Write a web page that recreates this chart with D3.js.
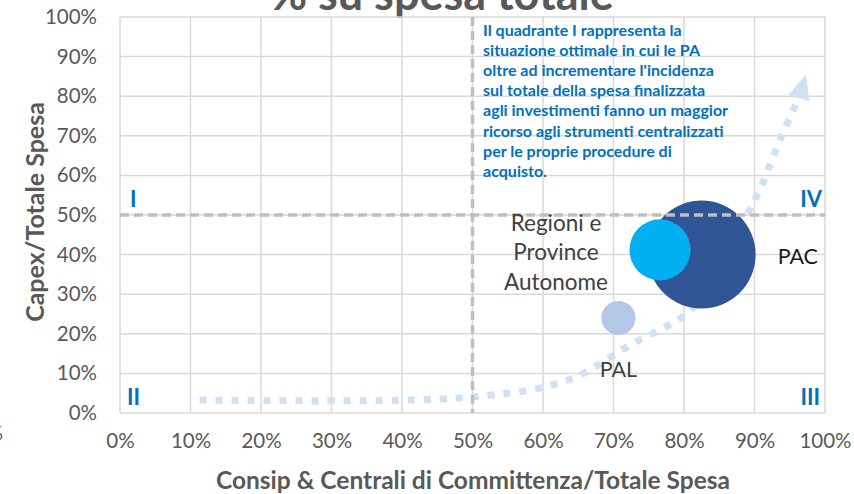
<!DOCTYPE html>
<html>
<head>
<meta charset="utf-8">
<script src="https://cdn.jsdelivr.net/npm/d3@7"></script>
<style>
  body { margin: 0; background: #fff; }
  svg { display: block; font-family: Lato, "Open Sans", sans-serif; }
</style>
</head>
<body>
<div id="chart"></div>
<script>
// tick values (shares 0..1)
const tickValues = [0, 0.1, 0.2, 0.3, 0.4, 0.5, 0.6, 0.7, 0.8, 0.9, 1];

// bubbles
const entities = ["PAC", "Regioni e Province Autonome", "PAL"];
const consipShare = [0.825, 0.766, 0.707];
const capexShare = [0.40, 0.412, 0.24];
const bubbleSize = [100, 32, 10];
const bubbleColors = ["#2F5597", "#00B0F0", "#B4C7E7"];

// dotted trend arrow (chart units)
const trendX = [0.113, 0.497, 0.635, 0.724, 0.813, 0.858, 0.904, 0.936, 0.963];
const trendY = [0.033, 0.040, 0.083, 0.172, 0.265, 0.399, 0.551, 0.689, 0.795];
const arrowTip = [0.973, 0.855];

const quadrantLabels = ["I", "II", "III", "IV"];
const noteLines = [
  "Il quadrante I rappresenta la",
  "situazione ottimale in cui le PA",
  "oltre ad incrementare l'incidenza",
  "sul totale della spesa finalizzata",
  "agli investimenti fanno un maggior",
  "ricorso agli strumenti centralizzati",
  "per le proprie procedure di",
  "acquisto."
];

const W = 854, H = 494;
const svg = d3.select("#chart").append("svg").attr("width", W).attr("height", H);

var x = d3.scaleLinear().domain([0, 1]).range([120, 825]);
var y = d3.scaleLinear().domain([0, 1]).range([413, 17]);
var r = d3.scaleSqrt().domain([0, 100]).range([0, 54]);
var pct = d3.format(".0%");

// title (cut off at the top)
svg.append("text")
  .attr("x", 442).attr("y", 10)
  .attr("text-anchor", "middle")
  .style("font-size", "45px").style("font-weight", "bold")
  .style("fill", "#595959")
  .text("% su spesa totale");

// stray fragment at the left edge
svg.append("text")
  .attr("x", -13).attr("y", 440)
  .style("font-size", "20px").style("fill", "#595959")
  .text("%");

// gridlines
var grid = svg.append("g");
grid.selectAll(".vg").data(tickValues).enter().append("line")
  .attr("x1", d => x(d)).attr("x2", d => x(d))
  .attr("y1", y(0)).attr("y2", y(1))
  .style("stroke", "#d9d9d9").style("stroke-width", 1.5);
grid.selectAll(".hg").data(tickValues).enter().append("line")
  .attr("x1", x(0)).attr("x2", x(1))
  .attr("y1", d => y(d)).attr("y2", d => y(d))
  .style("stroke", "#d9d9d9").style("stroke-width", 1.5);

// axes
var gx = svg.append("g")
  .attr("transform", "translate(0," + y(0) + ")")
  .call(d3.axisBottom(x).tickValues(tickValues).tickFormat(pct).tickSize(0).tickPadding(20));
var gy = svg.append("g")
  .attr("transform", "translate(" + x(0) + ",0)")
  .call(d3.axisLeft(y).tickValues(tickValues).tickFormat(pct).tickSize(0).tickPadding(23));
[gx, gy].forEach(g => {
  g.select(".domain").remove();
  g.selectAll("text").style("font-size", "20.5px").style("fill", "#595959").style("font-family", "Lato, sans-serif");
});

// axis titles
svg.append("text")
  .attr("x", 473).attr("y", 489)
  .attr("text-anchor", "middle")
  .style("font-size", "24.5px").style("font-weight", "bold").style("fill", "#595959")
  .text("Consip & Centrali di Committenza/Totale Spesa");
svg.append("text")
  .attr("transform", "translate(44,212) rotate(-90)")
  .attr("text-anchor", "middle")
  .style("font-size", "25px").style("font-weight", "bold").style("fill", "#595959")
  .text("Capex/Totale Spesa");

// dotted trend arrow
var trend = trendX.map((d, i) => [x(d), y(trendY[i])]);
var line = d3.line().curve(d3.curveCatmullRom.alpha(0.5));
svg.append("path")
  .attr("d", line(trend))
  .style("fill", "none")
  .style("stroke", "#CFE1F3")
  .style("stroke-width", 7)
  .style("stroke-dasharray", "7 9");

var last = trend[trend.length - 1];
var tip = [x(arrowTip[0]), y(arrowTip[1])];
var dx = tip[0] - last[0], dy = tip[1] - last[1];
var len = Math.sqrt(dx * dx + dy * dy);
var ux = dx / len, uy = dy / len;
var half = 11;
svg.append("path")
  .attr("d", "M" + tip[0] + "," + tip[1] +
    "L" + (last[0] - uy * half) + "," + (last[1] + ux * half) +
    "L" + (last[0] + uy * half) + "," + (last[1] - ux * half) + "Z")
  .style("fill", "#CFE1F3");

// bubbles
var bubbles = entities.map((name, i) => ({
  name: name, cx: consipShare[i], cy: capexShare[i], size: bubbleSize[i], color: bubbleColors[i]
}));
svg.selectAll(".bubble").data(bubbles).enter().append("circle")
  .attr("class", "bubble")
  .attr("cx", d => x(d.cx))
  .attr("cy", d => y(d.cy))
  .attr("r", d => r(d.size))
  .style("fill", d => d.color);

// quadrant dividers
var dash = svg.append("g")
  .style("stroke", "#bfbfbf").style("stroke-width", 3.5).style("stroke-dasharray", "9 5");
dash.append("line").attr("x1", x(0.5)).attr("x2", x(0.5)).attr("y1", y(1)).attr("y2", y(0));
dash.append("line").attr("x1", x(0)).attr("x2", x(1)).attr("y1", y(0.5)).attr("y2", y(0.5));

// quadrant labels: I top-left, II bottom-left, III bottom-right, IV top-right
var qPos = [
  { x: x(0) + 10, y: y(0.54), anchor: "start" },
  { x: x(0) + 7, y: y(0.04), anchor: "start" },
  { x: x(1) - 5, y: y(0.04), anchor: "end" },
  { x: x(1) - 3, y: y(0.54), anchor: "end" }
];
svg.selectAll(".quad").data(quadrantLabels).enter().append("text")
  .attr("x", (d, i) => qPos[i].x)
  .attr("y", (d, i) => qPos[i].y)
  .attr("dy", "0.36em")
  .attr("text-anchor", (d, i) => qPos[i].anchor)
  .style("font-size", "22px").style("font-weight", "bold").style("fill", "#0070C0")
  .text(d => d);

// note in quadrant I
svg.append("g").selectAll("text").data(noteLines).enter().append("text")
  .attr("x", x(0.515))
  .attr("y", (d, i) => 36 + i * 20.1)
  .style("font-size", "16px").style("font-weight", "bold").style("fill", "#0070C0")
  .text(d => d);

// bubble labels
var lbl = svg.append("g").style("font-size", "21.5px");
lbl.append("text")
  .attr("x", x(consipShare[0]) + r(bubbleSize[0]) + 22)
  .attr("y", y(capexShare[0]) + 2).attr("dy", "0.36em")
  .style("fill", "#1a1a1a")
  .text("PAC");
var reg = lbl.append("text")
  .attr("text-anchor", "middle")
  .style("font-size", "22.5px")
  .style("fill", "#404040");
["Regioni e", "Province", "Autonome"].forEach((t, i) => {
  reg.append("tspan")
    .attr("x", x(consipShare[1]) - 104)
    .attr("y", 223 + i * 29.3).attr("dy", "0.36em")
    .text(t);
});
lbl.append("text")
  .attr("x", x(consipShare[2]))
  .attr("y", y(capexShare[2]) + r(bubbleSize[2]) + 34).attr("dy", "0.36em")
  .attr("text-anchor", "middle")
  .style("fill", "#404040")
  .text("PAL");
</script>
</body>
</html>
